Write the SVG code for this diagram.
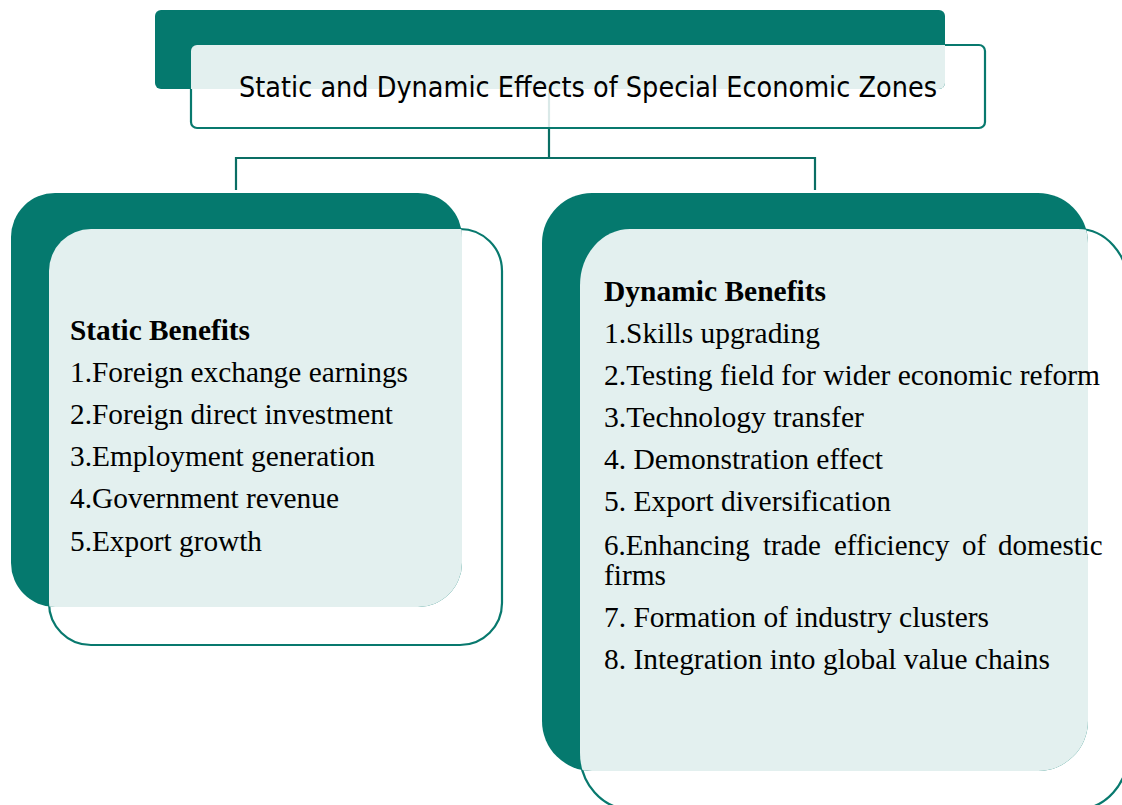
<svg xmlns="http://www.w3.org/2000/svg" width="1122" height="805" viewBox="0 0 1122 805">
<style>
.dark{fill:#05796e;}
.front{fill:#ffffff;stroke:#08796e;stroke-width:2.2;}
.light{fill:#e3f0ef;}
.conn{fill:none;stroke:#0a6e64;stroke-width:2.2;}
.faint{fill:none;stroke:#0a6e64;stroke-width:2.2;stroke-opacity:0.15;}
.title{font-family:"DejaVu Sans","Liberation Sans",sans-serif;font-size:29px;fill:#000;}
.hd{font-family:"Liberation Serif","Times New Roman",serif;font-size:29px;font-weight:bold;fill:#000;}
.it{font-family:"Liberation Serif","Times New Roman",serif;font-size:29px;fill:#000;}
</style>
<defs>
<clipPath id="cT"><rect x="191" y="45" width="794" height="83" rx="6"/></clipPath>
<clipPath id="cS"><rect x="49" y="229" width="453" height="416" rx="42"/></clipPath>
<clipPath id="cD"><rect x="580" y="229" width="548" height="580" rx="50" ry="56"/></clipPath>
</defs>
<rect width="1122" height="805" fill="#ffffff"/>
<g id="connectors">
<path class="conn" d="M549,128 V158 M236,190 V158 H815 V190"/>
</g>
<g id="title">
<rect class="front" x="191" y="45" width="794" height="83" rx="6"/>
<rect class="dark" x="155" y="10" width="790" height="79" rx="6"/>
<rect class="light" x="155" y="10" width="790" height="79" rx="6" clip-path="url(#cT)"/>
<path class="faint" d="M549,89 V127"/>
<text class="title" x="239" y="97" textLength="698" lengthAdjust="spacingAndGlyphs">Static and Dynamic Effects of Special Economic Zones</text>
</g>
<g id="static">
<rect class="front" x="49" y="229" width="453" height="416" rx="42"/>
<rect class="dark" x="11" y="193" width="451" height="414" rx="44"/>
<rect class="light" x="11" y="193" width="451" height="414" rx="44" clip-path="url(#cS)"/>
<text class="hd" x="70" y="340" textLength="180" lengthAdjust="spacingAndGlyphs">Static Benefits</text>
<text class="it" x="70" y="382" textLength="338" lengthAdjust="spacingAndGlyphs">1.Foreign exchange earnings</text>
<text class="it" x="70" y="424" textLength="323" lengthAdjust="spacingAndGlyphs">2.Foreign direct investment</text>
<text class="it" x="70" y="466" textLength="305" lengthAdjust="spacingAndGlyphs">3.Employment generation</text>
<text class="it" x="70" y="508" textLength="269" lengthAdjust="spacingAndGlyphs">4.Government revenue</text>
<text class="it" x="70" y="551" textLength="192" lengthAdjust="spacingAndGlyphs">5.Export growth</text>
</g>
<g id="dynamic">
<rect class="front" x="580" y="229" width="548" height="580" rx="50" ry="56"/>
<rect class="dark" x="542" y="193" width="546" height="578" rx="50"/>
<rect class="light" x="542" y="193" width="546" height="578" rx="50" clip-path="url(#cD)"/>
<text class="hd" x="604" y="301" textLength="222" lengthAdjust="spacingAndGlyphs">Dynamic Benefits</text>
<text class="it" x="604" y="343" textLength="216" lengthAdjust="spacingAndGlyphs">1.Skills upgrading</text>
<text class="it" x="604" y="385" textLength="496" lengthAdjust="spacingAndGlyphs">2.Testing field for wider economic reform</text>
<text class="it" x="604" y="427" textLength="260" lengthAdjust="spacingAndGlyphs">3.Technology transfer</text>
<text class="it" x="604" y="469" textLength="279" lengthAdjust="spacingAndGlyphs">4. Demonstration effect</text>
<text class="it" x="604" y="511" textLength="287" lengthAdjust="spacingAndGlyphs">5. Export diversification</text>
<text class="it" y="555"><tspan x="604">6.Enhancing</tspan><tspan x="763">trade</tspan><tspan x="834">efficiency</tspan><tspan x="962">of</tspan><tspan x="998">domestic</tspan></text>
<text class="it" x="604" y="585" textLength="62" lengthAdjust="spacingAndGlyphs">firms</text>
<text class="it" x="604" y="627" textLength="385" lengthAdjust="spacingAndGlyphs">7. Formation of industry clusters</text>
<text class="it" x="604" y="669" textLength="446" lengthAdjust="spacingAndGlyphs">8. Integration into global value chains</text>
</g>
</svg>
